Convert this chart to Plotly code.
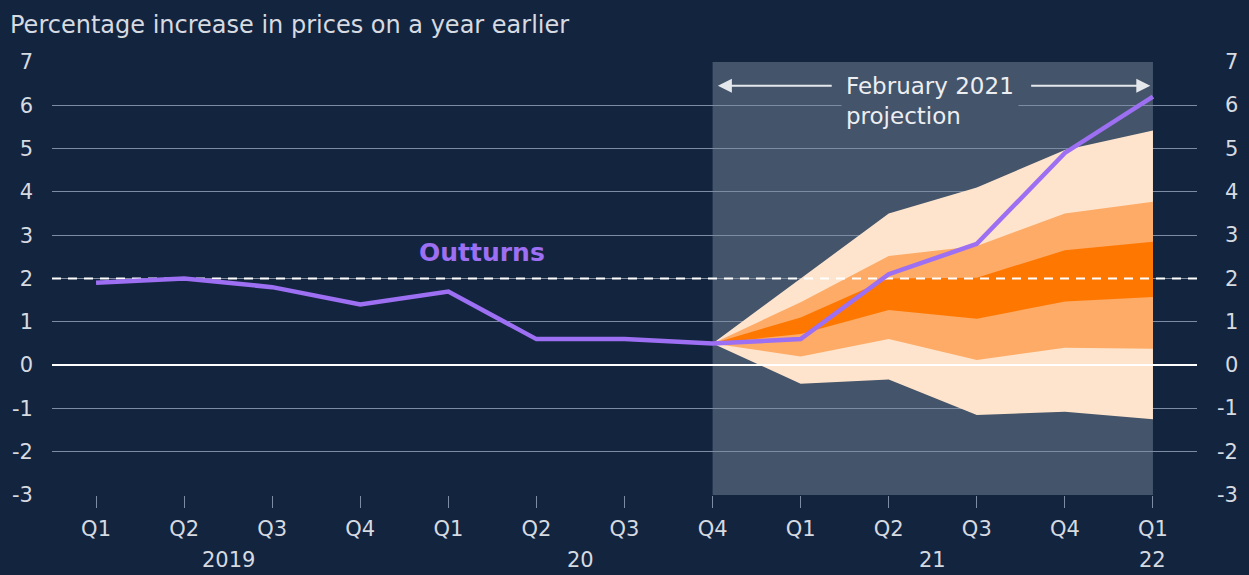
import plotly.graph_objects as go

# Quarterly axis, Q1 2019 to Q1 2022
quarters = ["Q1", "Q2", "Q3", "Q4", "Q1", "Q2", "Q3", "Q4", "Q1", "Q2", "Q3", "Q4", "Q1"]
year_labels = ["2019", "20", "21", "22"]
year_label_pos = [1.5, 5.5, 9.5, 12.0]

# CPI inflation outturns (% change on a year earlier)
outturn = [1.9, 2.0, 1.8, 1.4, 1.7, 0.6, 0.6, 0.5, 0.6, 2.1, 2.8, 4.9, 6.2]

# February 2021 projection fan, Q4 2020 to Q1 2022
fan_start = 7
fan_outer_lo = [0.5, -0.43, -0.33, -1.15, -1.08, -1.25]
fan_mid_lo = [0.5, 0.20, 0.60, 0.12, 0.40, 0.38]
fan_inner_lo = [0.5, 0.72, 1.27, 1.07, 1.47, 1.57]
fan_inner_hi = [0.5, 1.10, 2.00, 2.02, 2.65, 2.85]
fan_mid_hi = [0.5, 1.45, 2.52, 2.75, 3.50, 3.77]
fan_outer_hi = [0.5, 2.00, 3.50, 4.10, 4.97, 5.42]

target = 2.0
y_ticks = [-3, -2, -1, 0, 1, 2, 3, 4, 5, 6, 7]
y_tick_text = [str(v) for v in y_ticks]

BG = "#13243f"
SHADE = "#44546a"
GRID = "#7d8ca2"
TEXT = "#d6dae1"
PURPLE = "#9d6ff2"
FAN_LIGHT = "#fee4cc"
FAN_MID = "#fdab66"
FAN_DARK = "#fe7700"
FONT = "DejaVu Sans"

x_idx = list(range(len(quarters)))
x_range = [-0.5, len(quarters) - 0.5]
fan_x = x_idx[fan_start:]
fan_end = x_idx[-1]

fig = go.Figure()


def band(lo, hi, color):
    fig.add_trace(go.Scatter(
        x=fan_x + fan_x[::-1], y=hi + lo[::-1],
        fill="toself", fillcolor=color, mode="lines",
        line=dict(width=0), hoverinfo="skip", showlegend=False,
    ))


band(fan_outer_lo, fan_outer_hi, FAN_LIGHT)
band(fan_mid_lo, fan_mid_hi, FAN_MID)
band(fan_inner_lo, fan_inner_hi, FAN_DARK)

# zero line and 2% target line over the fan
fig.add_trace(go.Scatter(x=x_range, y=[0, 0], mode="lines",
                         line=dict(color="white", width=2),
                         hoverinfo="skip", showlegend=False))
fig.add_trace(go.Scatter(x=x_range, y=[target, target], mode="lines",
                         line=dict(color="white", width=2, dash="9px,7px"),
                         hoverinfo="skip", showlegend=False))

fig.add_trace(go.Scatter(x=x_idx, y=outturn, mode="lines",
                         line=dict(color=PURPLE, width=4.5),
                         showlegend=False))

# projection period background
fig.add_shape(type="rect", xref="x", yref="y",
              x0=fan_start, x1=fan_end, y0=y_ticks[0], y1=y_ticks[-1],
              fillcolor=SHADE, line=dict(width=0), layer="below")

annotations = []
# right-hand axis labels
for v, t in zip(y_ticks, y_tick_text):
    annotations.append(dict(xref="paper", yref="y", x=1.0376, y=v,
                            text=t, showarrow=False, xanchor="right",
                            yanchor="middle",
                            font=dict(family=FONT, size=21, color=TEXT)))
# year labels under the quarters
for lab, pos in zip(year_labels, year_label_pos):
    annotations.append(dict(xref="x", yref="paper", x=pos, y=-0.15,
                            text=lab, showarrow=False, xanchor="center",
                            yanchor="middle",
                            font=dict(family=FONT, size=21, color=TEXT)))

annotations.append(dict(xref="x", yref="y", x=4.38, y=2.6, text="<b>Outturns</b>",
                        showarrow=False, xanchor="center", yanchor="middle",
                        font=dict(family=FONT, size=25, color=PURPLE)))

arrow_y = 6.45
for tip, tail in [(fan_start + 0.06, 8.37), (fan_end - 0.03, 10.6)]:
    annotations.append(dict(xref="x", yref="y", axref="x", ayref="y",
                            x=tip, y=arrow_y, ax=tail, ay=arrow_y, text="",
                            showarrow=True, arrowhead=2, arrowsize=1.4,
                            arrowwidth=2, arrowcolor="#e4e7ec"))
annotations.append(dict(xref="x", yref="y", x=8.46, y=6.1,
                        text="February 2021<br>projection", showarrow=False,
                        xanchor="left", yanchor="middle", align="left",
                        bgcolor=SHADE, borderpad=4,
                        font=dict(family=FONT, size=23, color="#eceef2")))

fig.update_layout(
    width=1249, height=575,
    margin=dict(l=52, r=52, t=62, b=80, autoexpand=False),
    paper_bgcolor=BG, plot_bgcolor=BG,
    font=dict(family=FONT, color=TEXT),
    title=dict(text="Percentage increase in prices on a year earlier",
               xref="container", yref="container", x=10 / 1249,
               y=1 - 25 / 575, xanchor="left", yanchor="middle",
               font=dict(family=FONT, size=24, color=TEXT)),
    xaxis=dict(range=x_range, tickmode="array", tickvals=x_idx,
               ticktext=quarters, ticks="outside", ticklen=12,
               tickcolor=GRID, tickwidth=1, showgrid=False, zeroline=False,
               showline=False, automargin=False, ticklabelstandoff=3,
               tickfont=dict(family=FONT, size=21, color=TEXT),
               fixedrange=True),
    yaxis=dict(range=[y_ticks[0], y_ticks[-1]], tickmode="array",
               tickvals=y_ticks, ticktext=y_tick_text, ticks="",
               showgrid=True, gridcolor=GRID, gridwidth=1, zeroline=False,
               showline=False, automargin=False, ticklabelstandoff=18,
               tickfont=dict(family=FONT, size=21, color=TEXT),
               fixedrange=True),
    annotations=annotations,
)

fig.write_html("out.html")
